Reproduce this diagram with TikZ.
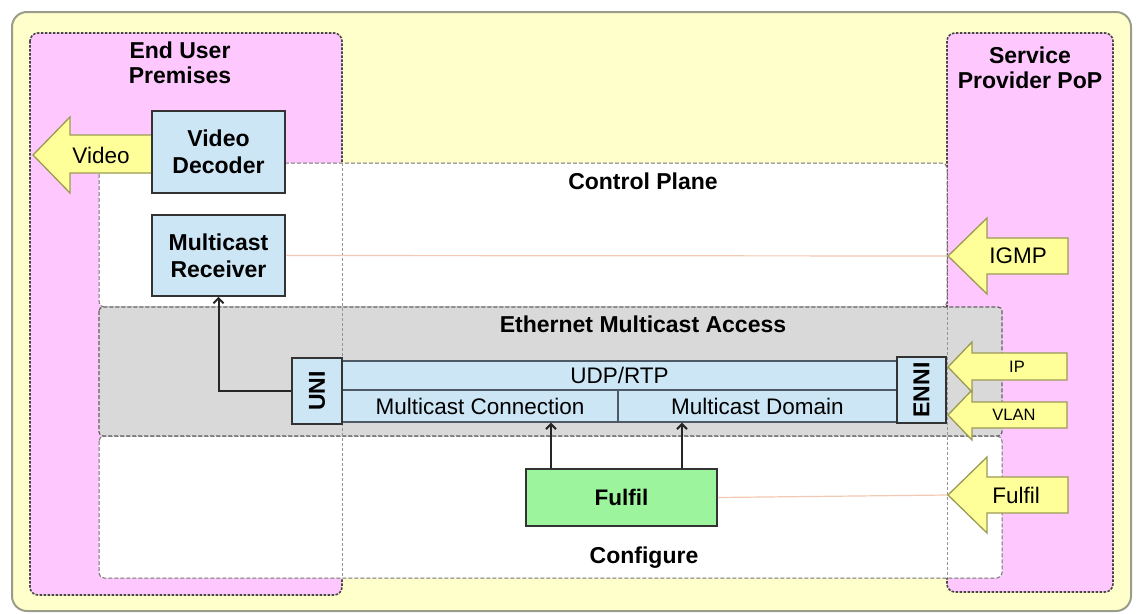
\documentclass[tikz,border=0pt]{standalone}
\usepackage{fontspec}
\setmainfont{Liberation Sans}
\usetikzlibrary{arrows.meta}
\definecolor{bgyellow}{HTML}{FFFFCC}
\definecolor{pinkzone}{HTML}{FEC8FE}
\definecolor{boxblue}{HTML}{CCE6F6}
\definecolor{fillgreen}{HTML}{9CF59C}
\definecolor{arrowyellow}{HTML}{FFFF99}
\definecolor{arrowedge}{HTML}{9A9A55}
\definecolor{zonegray}{HTML}{D9D9D9}
\definecolor{faintline}{HTML}{F2C9B2}
\definecolor{baredge}{HTML}{4D5A66}
\definecolor{frameedge}{HTML}{9C9C8C}
\begin{document}
\begin{tikzpicture}[x=1pt,y=-1pt,
  zonepink/.style={fill=pinkzone, draw=black!72, line width=1.6pt,
    dash pattern=on 2.6pt off 1.4pt, rounded corners=8pt},
  zonewhite/.style={fill=white, draw=black!55, line width=1pt,
    dash pattern=on 4pt off 2pt},
  zonegrey/.style={fill=zonegray, draw=black!62, line width=1.2pt,
    dash pattern=on 4pt off 2pt, rounded corners=4pt},
  seam/.style={draw=black!42, line width=0.9pt, dash pattern=on 3pt off 2pt},
  yarrow/.style={fill=arrowyellow, draw=arrowedge, line width=1.3pt, line join=miter},
  faint/.style={draw=faintline, line width=1.2pt},
  bluebox/.style={draw=black!80, line width=1.8pt, fill=boxblue, align=center,
    font=\fontsize{23}{27}\selectfont\bfseries, inner sep=0pt},
  ifbox/.style={draw=black!80, line width=1.8pt, fill=boxblue, inner sep=0pt},
  bar/.style={draw=baredge, line width=1.4pt, fill=boxblue, inner sep=0pt,
    font=\fontsize{22.5}{25}\selectfont},
  greenbox/.style={draw=black!80, line width=1.8pt, fill=fillgreen, inner sep=0pt,
    font=\fontsize{22.5}{25}\selectfont\bfseries},
  head/.style={font=\fontsize{23}{25}\selectfont\bfseries, align=center, inner sep=0pt},
  plain/.style={font=\fontsize{22.5}{25}\selectfont, inner sep=0pt},
  small/.style={font=\fontsize{16.5}{18}\selectfont, inner sep=0pt},
  conn/.style={draw=black!85, line width=2pt, -{Straight Barb[length=5pt,width=10pt]}}
]
\useasboundingbox (0,0) rectangle (1137,613);

% outer frame
\draw[fill=bgyellow, draw=frameedge, line width=2pt, rounded corners=15pt]
  (12,12) rectangle (1131,611);

% premises zones
\path[zonepink] (30,33) rectangle (342,595);
\path[zonepink] (947,33) rectangle (1113,592);

% planes
\path[zonewhite, rounded corners=5pt] (99,163) rectangle (947,307);
\path[zonewhite, rounded corners=5pt] (99,436) rectangle (1002,578);
\path[zonegrey] (99,307) rectangle (1002,436);

% zone boundaries seen through the planes
\draw[seam] (342,163) -- (342,578);
\draw[seam] (947,307) -- (947,578);

% coordinates of the block arrow tips
\coordinate (igmptip) at (948,256);
\coordinate (fultip) at (948,495);

% faint signalling lines
\node[bluebox, minimum width=133pt, minimum height=81pt] (rcv) at (218.5,255.5) {Multicast\\Receiver};
\node[greenbox, minimum width=191pt, minimum height=57pt] (ful) at (621.5,497.5) {Fulfil};
\draw[faint] (rcv.east) -- (igmptip);
\draw[faint] (ful.east) -- (fultip);

% block arrows
\draw[yarrow] (33,155) -- (70,117) -- (70,135) -- (152,135) -- (152,173)
  -- (70,173) -- (70,193) -- cycle;
\draw[yarrow] (igmptip) -- (987,218) -- (987,238) -- (1068,238) -- (1068,274)
  -- (987,274) -- (987,294) -- cycle;
\draw[yarrow] (fultip) -- (987,457) -- (987,477) -- (1068,477) -- (1068,513)
  -- (987,513) -- (987,533) -- cycle;
\draw[yarrow] (948,415) -- (972,390) -- (972,402) -- (1067,402) -- (1067,428)
  -- (972,428) -- (972,440) -- cycle;
\draw[yarrow] (948,367) -- (972,342) -- (972,353) -- (1067,353) -- (1067,380)
  -- (972,380) -- (972,392) -- cycle;

\node[plain] (vidtxt) at (101,155) {Video};
\node[plain] (igmptxt) at (1018,256) {IGMP};
\node[small] (iptxt) at (1017,367) {IP};
\node[small] (vlantxt) at (1014,415) {VLAN};
\node[plain] (fultxt) at (1016,495) {Fulfil};

% boxes
\node[bluebox, minimum width=133pt, minimum height=82pt] (dec) at (218.5,152) {Video\\Decoder};

% Ethernet access stack
\node[bar, minimum width=555pt, minimum height=29pt] (udp) at (619.5,375.5) {UDP/RTP};
\node[bar, minimum width=276pt, minimum height=32pt] (mcon) at (480,406) {Multicast Connection};
\node[bar, minimum width=279pt, minimum height=32pt] (mdom) at (757.5,406) {Multicast Domain};
\node[ifbox, minimum width=50pt, minimum height=66pt] (uni) at (317,391) {};
\node[head, rotate=90] (unitxt) at (uni) {UNI};
\node[ifbox, minimum width=49pt, minimum height=66pt] (enni) at (921.5,390) {};
\node[head, rotate=90] (ennitxt) at (enni) {ENNI};

% connectors
\draw[conn] (uni.west) -| (rcv.south);
\coordinate (fa) at ([xshift=-70.5pt]ful.north);
\coordinate (fb) at ([xshift=60.5pt]ful.north);
\draw[conn] (fa) -- (fa |- mcon.south);
\draw[conn] (fb) -- (fb |- mdom.south);

% headings
\node[head] (eup) at (180,63) {End User\\Premises};
\node[head] (spp) at (1030,68) {Service\\Provider PoP};
\node[head, anchor=base] (cp) at (643,189) {Control Plane};
\node[head, anchor=base] (ema) at (643,332) {Ethernet Multicast Access};
\node[head, anchor=base] (cfg) at (644,563) {Configure};
\end{tikzpicture}
\end{document}
